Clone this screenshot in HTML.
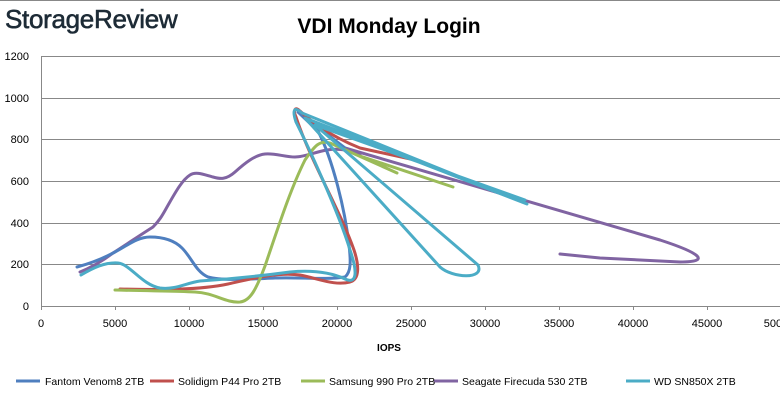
<!DOCTYPE html>
<html><head><meta charset="utf-8"><style>
body{margin:0;background:#fff;}
svg{display:block;font-family:"Liberation Sans",sans-serif;}
</style></head><body>
<svg width="780" height="401" viewBox="0 0 780 401">
<rect x="0" y="0" width="780" height="401" fill="#fff"/>
<line x1="0" y1="0.5" x2="780" y2="0.5" stroke="#888"/>
<text x="5" y="28" font-size="26" fill="#1d2b36" stroke="#1d2b36" stroke-width="0.6" letter-spacing="-0.3">StorageReview</text>
<text x="389" y="33" font-size="21" font-weight="bold" text-anchor="middle" fill="#000">VDI Monday Login</text>
<g stroke="#888" stroke-width="1">
<line x1="41" y1="56.5" x2="780" y2="56.5"/>
<line x1="41" y1="98.5" x2="780" y2="98.5"/>
<line x1="41" y1="139.5" x2="780" y2="139.5"/>
<line x1="41" y1="181.5" x2="780" y2="181.5"/>
<line x1="41" y1="223.5" x2="780" y2="223.5"/>
<line x1="41" y1="264.5" x2="780" y2="264.5"/>
<line x1="41" y1="306.5" x2="780" y2="306.5"/>
<line x1="41.5" y1="56" x2="41.5" y2="306"/>
<g>
<line x1="41.5" y1="306" x2="41.5" y2="310"/><line x1="115.5" y1="306" x2="115.5" y2="310"/><line x1="189.5" y1="306" x2="189.5" y2="310"/><line x1="263.5" y1="306" x2="263.5" y2="310"/><line x1="337.5" y1="306" x2="337.5" y2="310"/><line x1="411.5" y1="306" x2="411.5" y2="310"/><line x1="485.5" y1="306" x2="485.5" y2="310"/><line x1="559.5" y1="306" x2="559.5" y2="310"/><line x1="633.5" y1="306" x2="633.5" y2="310"/><line x1="707.5" y1="306" x2="707.5" y2="310"/>
</g></g>
<g font-size="11" fill="#000" text-anchor="end">
<text x="29" y="60">1200</text><text x="29" y="102">1000</text><text x="29" y="143">800</text><text x="29" y="185">600</text><text x="29" y="227">400</text><text x="29" y="268">200</text><text x="29" y="310">0</text>
</g>
<g font-size="11" fill="#000" text-anchor="middle">
<text x="41" y="327">0</text><text x="115" y="327">5000</text><text x="189" y="327">10000</text><text x="263" y="327">15000</text><text x="337" y="327">20000</text><text x="411" y="327">25000</text><text x="485" y="327">30000</text><text x="559" y="327">35000</text><text x="633" y="327">40000</text><text x="707" y="327">45000</text><text x="779" y="327">50000</text>
</g>
<text x="389" y="351" font-size="10" font-weight="bold" text-anchor="middle">IOPS</text>
<g fill="none" stroke-width="3" stroke-linecap="round" stroke-linejoin="round">
<path stroke="#8064a2" d="M80,272 C95,266 105,259 113,253 C130,242 145,232 153,227 C160,220 163,214 167,207 C175,193 182,180 190,175 C196,171 205,175 213,177 C220,179 226,180 235,172 C245,163 255,155 265,154 C275,153 285,157 295,157 C305,157 315,152 327,150 C340,148 350,150 360,155 L345,148 L660,240 C700,253 712,262 680,262 L600,258 L560,254"/>
<path stroke="#4f7fbf" d="M77,267 C92,263 104,258 115,252 C128,245 138,237 150,237 C162,237 174,240 182,248 C192,258 196,272 208,277 C222,281 250,279 275,278 C300,277 325,280 345,277 C351,272 351,262 349,245 C345,210 333,160 318,131 L298,112 L345,148"/>
<path stroke="#c0504d" d="M120,289 C160,290 200,290 228,284 C255,278 278,272 300,275 C320,279 335,286 350,282 C360,279 359,265 354,250 C340,210 310,160 296,117 C293,110 295,106 300,111 C315,125 335,138 360,148 L415,160"/>
<path stroke="#9bbb59" d="M115,290 C150,291 175,291 195,292 C215,293 225,303 240,302 C250,301 256,290 265,266 C278,228 290,190 305,160 C315,145 320,140 330,143 L397,173 L360,156 L453,187"/>
<path stroke="#4bacc6" d="M81,275 C93,268 105,262 118,263 C130,264 142,285 160,288 C175,290 186,283 200,281 C230,279 260,276 290,272 C312,270 330,272 345,279 C358,285 357,270 350,250 C338,210 305,140 296,122 C292,110 294,106 302,113 L527,204 L305,118 L440,267 C452,278 485,280 478,265 L315,125 L525,200"/>
</g>
<g stroke-width="3">
<line x1="16" y1="381" x2="40" y2="381" stroke="#4f7fbf"/>
<line x1="150" y1="381" x2="174" y2="381" stroke="#c0504d"/>
<line x1="301" y1="381" x2="325" y2="381" stroke="#9bbb59"/>
<line x1="434" y1="381" x2="458" y2="381" stroke="#8064a2"/>
<line x1="626" y1="381" x2="650" y2="381" stroke="#4bacc6"/>
</g>
<g font-size="10.5" fill="#000">
<text x="45" y="385">Fantom Venom8 2TB</text>
<text x="178" y="385">Solidigm P44 Pro 2TB</text>
<text x="329" y="385">Samsung 990 Pro 2TB</text>
<text x="462" y="385">Seagate Firecuda 530 2TB</text>
<text x="654" y="385">WD SN850X 2TB</text>
</g>
</svg>
</body></html>
